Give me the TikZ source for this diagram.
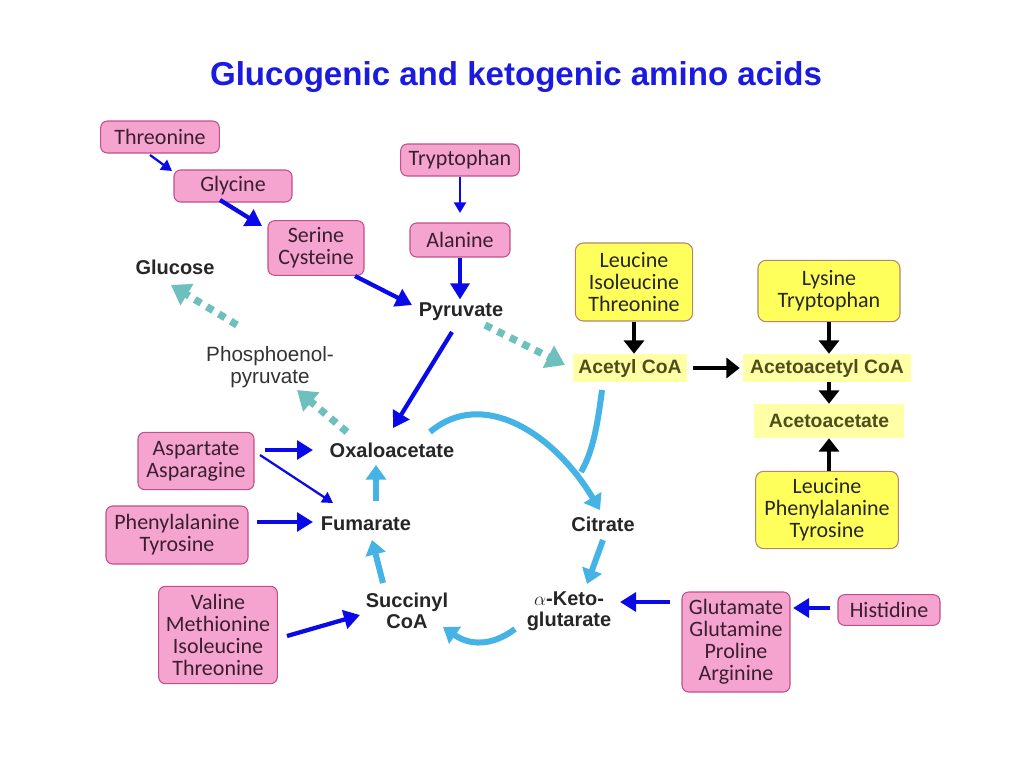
\documentclass[tikz,border=0pt]{standalone}
\usepackage{fontspec}
\setmainfont{Liberation Sans}
\newfontfamily\carl{Carlito}
\usetikzlibrary{arrows.meta,calc}
\definecolor{titleblue}{HTML}{1A1AE0}
\definecolor{pinkfill}{HTML}{F5A3CF}
\definecolor{pinkline}{HTML}{C25087}
\definecolor{pinktext}{HTML}{3A1F30}
\definecolor{yelfill}{HTML}{FFFF5C}
\definecolor{yelline}{HTML}{B5876A}
\definecolor{palebg}{HTML}{FFFFA6}
\definecolor{olive}{HTML}{4E4E1C}
\definecolor{arrblue}{HTML}{0A0AE8}
\definecolor{tealdot}{HTML}{6EC0BE}
\definecolor{cycblue}{HTML}{45B3E6}
\tikzset{
  pinkbox/.style={draw=pinkline, fill=pinkfill, line width=0.8pt, rounded corners=5pt,
    inner sep=0pt, align=center, text=pinktext, font=\carl\fontsize{16.5}{16.5}\selectfont},
  yelbox/.style={draw=yelline, fill=yelfill, line width=0.8pt, rounded corners=6pt,
    inner sep=0pt, align=center, text=black!85, font=\carl\fontsize{16.5}{16.5}\selectfont},
  metab/.style={inner sep=1pt, align=center, text=black!85, font=\bfseries\fontsize{15}{16}\selectfont},
  plainlab/.style={inner sep=1pt, align=center, text=black!80, font=\fontsize{15.5}{16.5}\selectfont},
  ketolab/.style={fill=palebg, inner sep=0pt, text=olive, font=\bfseries\fontsize{14.5}{15}\selectfont},
  bluethick/.style={draw=arrblue, line width=3.2pt, -{Triangle[length=12pt,width=14pt]}},
  bluethin/.style={draw=arrblue, line width=1.7pt, -{Triangle[length=8pt,width=9pt]}},
  blackarr/.style={draw=black, line width=3.4pt, -{Triangle[length=10pt,width=15pt]}},
  tealarr/.style={draw=tealdot, line width=5.5pt, dash pattern=on 5.5pt off 5pt, -{Triangle[length=14pt,width=18pt]}},
  cycarr/.style={draw=cycblue, line width=4.5pt, -{Triangle[length=11pt,width=15pt]}},
  cycline/.style={draw=cycblue, line width=4.5pt}
}
\begin{document}
\begin{tikzpicture}[x=0.75pt,y=-0.75pt]
\useasboundingbox[fill=white] (0,0) rectangle (1024,768);

\node[text=titleblue, font=\bfseries\fontsize{24.8}{28}\selectfont] (title) at (516,77) {Glucogenic and ketogenic amino acids};

% pink amino-acid boxes
\node[pinkbox, minimum width=89pt, minimum height=24pt] (thr) at (160,137) {Threonine};
\node[pinkbox, minimum width=88.5pt, minimum height=24pt] (gly) at (233,186) {Glycine};
\node[pinkbox, minimum width=72pt, minimum height=41pt] (ser) at (316,248) {Serine\\Cysteine};
\node[pinkbox, minimum width=89pt, minimum height=24pt] (trp) at (460,160) {Tryptophan};
\node[pinkbox, minimum width=75pt, minimum height=25.5pt] (ala) at (460,240) {Alanine};
\node[pinkbox, minimum width=87pt, minimum height=43pt] (asp) at (196,461) {Aspartate\\Asparagine};
\node[pinkbox, minimum width=106.5pt, minimum height=43.5pt] (phe) at (177,535) {Phenylalanine\\Tyrosine};
\node[pinkbox, minimum width=89pt, minimum height=73pt] (val) at (218,635) {Valine\\Methionine\\Isoleucine\\Threonine};
\node[pinkbox, minimum width=81pt, minimum height=75pt] (glu) at (736,642) {Glutamate\\Glutamine\\Proline\\Arginine};
\node[pinkbox, minimum width=76.5pt, minimum height=23pt] (his) at (889,610) {Histidine};

% yellow ketogenic boxes
\node[yelbox, minimum width=88pt, minimum height=58.5pt] (leu1) at (634,282) {Leucine\\Isoleucine\\Threonine};
\node[yelbox, minimum width=106.5pt, minimum height=46pt] (lys) at (829,291) {Lysine\\Tryptophan};
\node[yelbox, minimum width=107pt, minimum height=58pt] (leu2) at (827,510) {Leucine\\Phenylalanine\\Tyrosine};

% ketogenic intermediates
\node[ketolab, minimum width=85.5pt, minimum height=21pt] (acoa) at (630,368) {Acetyl CoA};
\node[ketolab, minimum width=126pt, minimum height=21pt] (aacoa) at (827,368) {Acetoacetyl CoA};
\node[ketolab, minimum width=113pt, minimum height=25.5pt] (aca) at (829,421) {Acetoacetate};

% metabolites
\node[metab] (pyr) at (461,312) {Pyruvate};
\node[metab, font=\bfseries\fontsize{15}{16}\selectfont] (glc) at (175,267) {Glucose};
\node[plainlab] (pep) at (270,367) {Phosphoenol-\\pyruvate};
\node[metab] (oaa) at (392,450) {Oxaloacetate};
\node[metab] (fum) at (366,524) {Fumarate};
\node[metab] (cit) at (603,524) {Citrate};
\node[metab] (suc) at (407,611) {Succinyl\\CoA};
\node[metab] (akg) at (569,611) {$\alpha$-Keto-\\glutarate};

% blue arrows
\draw[bluethin] ($(thr)+(-10,18)$) -- ($(gly)+(-61,-15)$);
\draw[bluethick] ($(gly)+(-13,14)$) -- ($(ser)+(-54,-22)$);
\draw[bluethick] ($(ser)+(39,28)$) -- ($(pyr)+(-49,-7)$);
\draw[bluethin] (trp.south) -- ($(ala)+(0,-27)$);
\draw[bluethick] (ala.south) -- ($(ala.south |- pyr.north)+(0,-2)$);
\draw[bluethick] ($(pyr)+(-9,20)$) -- ($(oaa)+(1,-22)$);
\draw[bluethick] ($(asp)+(69,-11)$) -- ($(oaa)+(-79,0)$);
\draw[bluethin] ($(asp)+(64,-6)$) -- ($(fum)+(-33,-21)$);
\draw[bluethick] ($(phe)+(80,-13)$) -- ($(fum)+(-53,-2)$);
\draw[bluethick] ($(val)+(69,1)$) -- ($(suc)+(-47,4)$);
\draw[bluethick] ($(glu)+(-66,-40)$) -- ($(akg)+(51,-9)$);
\draw[bluethick] ($(his)+(-59,-2)$) -- ($(glu)+(57,-34)$);

% teal dotted (gluconeogenesis / PDH)
\draw[tealarr] ($(pyr)+(24,13)$) -- ($(acoa)+(-65,-3)$);
\draw[tealarr] ($(oaa)+(-45,-18)$) -- ($(pep)+(27,23)$);
\draw[tealarr] ($(pep)+(-33,-42)$) -- ($(glc)+(-4,18)$);

% black ketogenic arrows
\draw[blackarr] (leu1.south) -- (leu1.south |- acoa.north);
\draw[blackarr] (lys.south) -- (lys.south |- aacoa.north);
\draw[blackarr] ($(acoa.east)+(6,0)$) -- ($(aacoa.west)+(-3,0)$);
\draw[blackarr] (aacoa.south -| lys.south) -- (lys.south |- aca.north);
\draw[blackarr] (leu2.north -| lys.south) -- (lys.south |- aca.south);

% citric acid cycle
\coordinate (join) at ($(cit)+(-22,-52)$);
\draw[cycline] ($(acoa)+(-28,22)$) .. controls ($(acoa)+(-34,70)$) and ($(acoa)+(-40,88)$) .. (join);
\draw[cycarr] ($(oaa)+(38,-18)$) .. controls ($(oaa)+(90,-62)$) and ($(cit)+(-50,-92)$) .. ($(cit)+(-3,-14)$);
\draw[cycarr] ($(cit)+(0,16)$) -- ($(akg)+(18,-27)$);
\draw[cycarr] ($(akg)+(-54,18)$) .. controls ($(akg)+(-78,36)$) and ($(suc)+(62,34)$) .. ($(suc)+(36,16)$);
\draw[cycarr] ($(suc)+(-24,-28)$) -- ($(fum)+(6,16)$);
\draw[cycarr] ($(fum)+(10,-23)$) -- ($(oaa)+(-16,15)$);
\end{tikzpicture}
\end{document}
